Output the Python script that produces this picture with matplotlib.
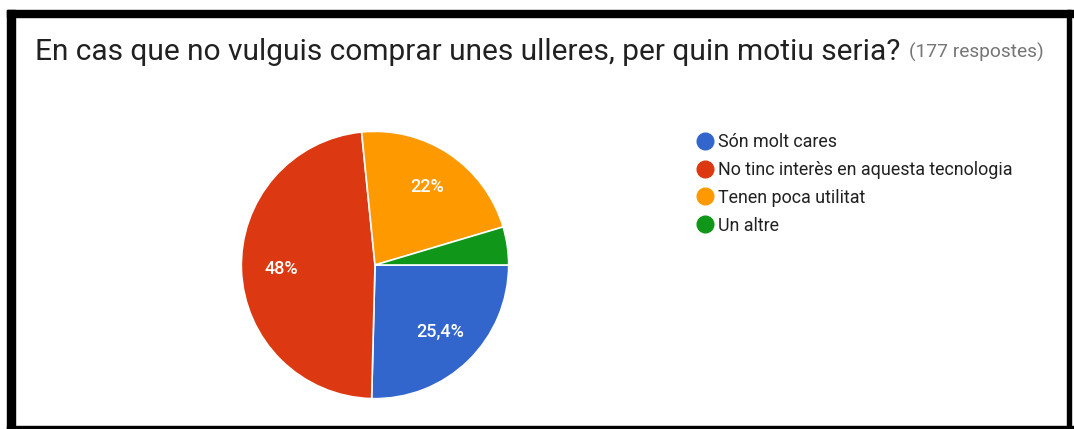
import matplotlib
matplotlib.use("Agg")
import matplotlib.pyplot as plt
from matplotlib.lines import Line2D
from matplotlib.patches import Rectangle

plt.rcParams['font.family'] = ['Roboto', 'DejaVu Sans']

title = "En cas que no vulguis comprar unes ulleres, per quin motiu seria?"
subtitle = "(177 respostes)"
categories = ["Són molt cares", "No tinc interès en aquesta tecnologia",
              "Tenen poca utilitat", "Un altre"]
shares = [25.4, 48, 22, 4.6]
shown_labels = ["25,4%", "48%", "22%", ""]
colors = ["#3366cc", "#dc3912", "#ff9900", "#109618"]

W, H = 1074, 429
fig = plt.figure(figsize=(W / 100, H / 100), dpi=100)
fig.patch.set_facecolor("white")


def px_box(x0, y0, w, h):
    # pixel box (top-left origin) -> figure fraction
    return [x0 / W, 1 - (y0 + h) / H, w / W, h / H]


# pie
cx, cy, r = 375, 265, 135
ax = fig.add_axes(px_box(cx - r, cy - r, 2 * r, 2 * r))
wedges, texts = ax.pie(shares, colors=colors, startangle=0, counterclock=False,
                       radius=1, labels=shown_labels, labeldistance=0.7,
                       wedgeprops=dict(edgecolor="white", linewidth=1.2),
                       textprops=dict(color="white", fontsize=13, fontweight="medium"))
for t in texts:
    t.set_ha("center")
    t.set_va("center")
ax.set_xlim(-1.01, 1.01)
ax.set_ylim(-1.01, 1.01)
ax.set_aspect("equal")
ax.axis("off")

# title
fig.text(35 / W, 1 - 52 / H, title, fontsize=21.5, color="#212121", va="center", ha="left")
fig.text(909 / W, 1 - 52 / H, subtitle, fontsize=13.8, color="#757575", va="center", ha="left")

# legend
handles = [Line2D([], [], marker="o", linestyle="none", markersize=12,
                  markerfacecolor=c, markeredgecolor=c) for c in colors]
fig.legend(handles, categories, loc="upper left",
           bbox_to_anchor=(687 / W, 1 - 124 / H), frameon=False,
           fontsize=12.9, labelspacing=0.55, handletextpad=0.25,
           handlelength=1.0, borderpad=0, labelcolor="#212121")

# frame around the chart
for x0, y0, w, h in [(7, 10, W - 7, 7), (7, 10, 8, H - 10), (7, 426, W - 7, 3),
                     (1067, 10, 4, H - 10)]:
    fig.patches.append(Rectangle((x0 / W, 1 - (y0 + h) / H), w / W, h / H,
                                 transform=fig.transFigure, color="black", zorder=10))

fig.savefig("out.png", dpi=100)
